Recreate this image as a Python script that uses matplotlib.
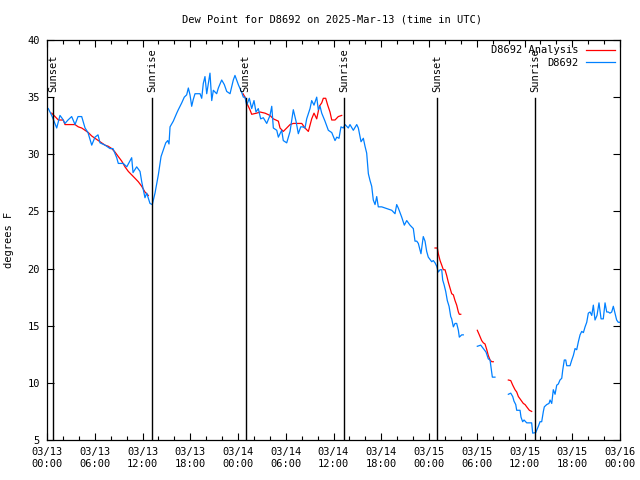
import numpy as np
import pandas as pd
import matplotlib
matplotlib.use("Agg")
import matplotlib.pyplot as plt
import matplotlib.dates as mdates
import matplotlib.transforms as mtransforms

plt.rcParams['font.family'] = ['DejaVu Sans Mono']

inicio = pd.Timestamp("2025-03-13 00:00")

# horas desde 03/13 00:00 UTC ; nan = falha nos dados
horas_obs = [0.16, 0.59, 1.22, 1.63, 1.95, 2.26, 2.64, 3.10, 3.52, 3.90, 4.36, 4.78, 5.15, 5.62,
             6.03, 6.41, 6.66, 7.29, 7.92, 8.29, 8.76, 8.96, 9.59, 10.02, 10.64, 10.81, 11.27,
             11.69, 11.90, 12.31, 12.53, 12.94, 13.23, 13.57, 13.99, 14.33, 14.62, 14.92, 15.17,
             15.33, 15.46, 15.87, 16.30, 16.50, 16.93, 17.25, 17.55, 17.76, 17.97, 18.18, 18.38,
             18.60, 19.23, 19.44, 19.64, 19.85, 20.07, 20.48, 20.70, 20.90, 21.32, 21.53, 21.95,
             22.28, 22.58, 23.00, 23.41, 23.62, 24.04, 24.47, 24.67, 24.88, 25.09, 25.42, 25.72,
             26.01, 26.26, 26.55, 26.85, 27.18, 27.61, 28.02, 28.24, 28.44, 28.87, 29.07, 29.49,
             29.69, 30.12, 30.54, 30.95, 31.29, 31.58, 31.88, 32.13, 32.42, 32.63, 33.05, 33.26,
             33.55, 33.89, 34.09, 34.31, 34.52, 34.93, 35.35, 35.78, 36.19, 36.41, 36.69, 36.94,
             37.23, 37.45, 37.86, 38.07, 38.49, 38.92, 39.12, 39.46, 39.75, 39.96, 40.17, 40.38,
             40.59, 40.80, 41.00, 41.22, 41.43, 41.63, 42.06, 42.47, 43.32, 43.73, 43.94, 44.14,
             44.57, 44.90, 45.20, 45.61, 46.03, 46.24, 46.46, 46.66, 46.99, 47.28, 47.50, 47.71,
             47.91, 48.34, 48.54, 48.76, 48.97, 49.17, 49.39, 49.60, 49.72, 49.89, 50.10, 50.30,
             50.52, 50.73, 50.85, 51.06, 51.27, 51.48, 51.69, 51.81, 52.11, 52.31,
             53.00,
             54.07, 54.50, 54.83, 55.16, 55.45, 55.67, 55.79, 55.96, 56.29,
             57.00,
             57.97, 58.27, 58.52, 58.68, 58.90, 59.02, 59.44, 59.56, 59.77, 59.94, 60.28, 60.90,
             61.03, 61.41, 61.74, 61.95, 62.16, 62.37, 62.49, 62.79, 63.08, 63.21, 63.42, 63.62,
             63.84, 64.05, 64.25, 64.46, 64.68, 64.80, 65.00, 65.18, 65.31, 65.72, 65.94, 66.14,
             66.35, 66.56, 66.77, 66.98, 67.19, 67.40, 67.61, 67.82, 68.02, 68.24, 68.45, 68.65,
             68.86, 69.11, 69.36, 69.62, 69.90, 70.12, 70.33, 70.53, 70.74, 70.96, 71.16, 71.37,
             71.58, 71.78, 71.99]
orvalho_obs = [34.0, 33.4, 32.3, 33.4, 33.1, 32.7, 33.0, 33.3, 32.6, 33.3, 33.3, 32.3, 31.9, 30.8,
               31.5, 31.7, 31.0, 30.8, 30.5, 30.5, 29.7, 29.2, 29.2, 28.9, 29.7, 28.4, 28.9,
               28.5, 27.6, 26.2, 26.6, 25.7, 25.6, 26.6, 28.2, 29.8, 30.4, 31.0, 31.2,
               30.9, 32.4, 32.9, 33.6, 33.9, 34.5, 35.0, 35.2, 35.8, 35.2, 34.2, 34.8,
               35.3, 35.3, 34.9, 36.2, 36.8, 35.3, 37.1, 34.7, 35.6, 35.3, 35.8, 36.5,
               36.1, 35.5, 35.3, 36.5, 36.9, 36.1, 35.4, 35.0, 35.0, 34.3, 34.9, 34.0,
               34.7, 33.7, 34.0, 33.1, 33.2, 32.7, 33.4, 34.2, 32.3, 32.1, 31.5, 32.1,
               31.2, 31.0, 32.0, 33.9, 32.9, 31.8, 32.4, 32.4, 32.3, 33.1, 34.0, 34.7,
               34.3, 35.0, 33.9, 34.2, 33.6, 32.9, 32.1, 31.9, 31.2, 31.5, 31.4, 32.4,
               32.3, 32.6, 32.3, 32.6, 32.1, 32.6, 32.3, 31.1, 31.4, 30.7, 30.1, 28.3,
               27.7, 27.2, 26.0, 25.6, 26.3, 25.4, 25.4, 25.3, 25.1, 24.8, 25.6, 25.3,
               24.5, 23.8, 24.2, 23.8, 23.5, 22.4, 22.4, 22.2, 21.3, 22.8, 22.4, 21.5,
               21.0, 20.6, 20.7, 20.5, 20.2, 19.7, 19.9, 19.9, 19.0, 18.6, 18.0, 17.2,
               16.7, 15.8, 15.6, 14.9, 15.2, 15.2, 14.6, 14.0, 14.2, 14.2,
               np.nan,
               13.2, 13.3, 13.0, 12.7, 12.1, 12.0, 11.4, 10.5, 10.5,
               np.nan,
               9.0, 9.1, 8.8, 8.4, 8.1, 7.6, 7.6, 7.0, 6.6, 6.75, 6.5, 6.5,
               5.6, 5.65, 6.2, 6.6, 6.6, 7.5, 7.9, 8.1, 8.2, 8.5, 8.2, 9.4,
               9.0, 9.8, 9.9, 10.25, 10.4, 11.1, 12.0, 12.0, 11.5, 11.5, 12.0, 12.4,
               13.0, 12.9, 13.6, 14.2, 14.5, 14.4, 14.9, 15.3, 16.1, 16.2, 15.9, 16.8,
               15.5, 15.9, 17.0, 15.6, 15.6, 17.0, 16.2, 16.2, 16.1, 16.2, 16.7, 16.1,
               15.5, 15.3, 15.3]

horas_analise = [0.59, 1.01, 1.42, 2.05, 2.26, 2.89, 3.52, 3.93, 4.36, 4.78, 5.19, 5.62, 6.03,
                 6.45, 6.87, 7.29, 7.70, 8.13, 8.54, 8.96, 9.39, 9.80, 10.22, 10.64, 11.06,
                 11.47, 11.90, 12.31, 12.73,
                 18.0,
                 24.63, 24.88, 25.09, 25.50, 25.72, 26.35, 26.77, 27.39, 28.02, 28.44, 29.07,
                 29.28, 29.69, 30.12, 30.54, 30.95, 31.58, 32.01, 32.42, 32.84, 33.26, 33.55,
                 33.89, 34.22, 34.52, 34.72, 35.02, 35.27, 35.56, 35.78, 36.19, 36.60, 37.03,
                 42.0,
                 48.76, 49.05, 49.17, 49.39, 49.60, 49.80, 50.01, 50.22, 50.43, 50.64, 50.85,
                 51.06, 51.27, 51.48, 51.69, 51.81, 51.99,
                 53.0,
                 54.07, 54.32, 54.62, 54.83, 55.04, 55.26, 55.45, 55.67, 55.88, 56.08,
                 57.0,
                 57.97, 58.27, 58.52, 58.81, 59.02, 59.23, 59.44, 59.85, 60.07, 60.28, 60.61,
                 60.90]
orvalho_analise = [33.6, 33.3, 33.0, 33.0, 32.6, 32.6, 32.6, 32.4, 32.3, 32.1, 31.9, 31.6, 31.4,
                   31.2, 31.0, 30.8, 30.7, 30.5, 30.2, 29.8, 29.4, 28.9, 28.5, 28.2, 27.9,
                   27.6, 27.2, 26.7, 26.4,
                   np.nan,
                   35.3, 35.0, 34.5, 33.9, 33.5, 33.6, 33.7, 33.6, 33.4, 33.1, 32.9,
                   32.3, 32.0, 32.3, 32.6, 32.7, 32.7, 32.7, 32.3, 32.0, 33.1, 33.6,
                   33.1, 34.2, 34.5, 34.9, 34.9, 34.3, 33.7, 33.0, 33.0, 33.3, 33.4,
                   np.nan,
                   21.8, 21.8, 21.3, 20.7, 20.3, 19.9, 19.9, 19.4, 18.8, 18.3, 17.8,
                   17.7, 17.2, 16.8, 16.2, 16.0, 16.0,
                   np.nan,
                   14.6, 14.2, 13.7, 13.5, 13.4, 12.9, 12.4, 12.0, 11.85, 11.85,
                   np.nan,
                   10.25, 10.2, 9.8, 9.4, 9.2, 8.8, 8.6, 8.2, 8.1, 7.9, 7.6,
                   7.5]

horas_sol = [0.79, 13.23, 24.97, 37.36, 49.05, 61.36]
eventos_sol = ["Sunset", "Sunrise", "Sunset", "Sunrise", "Sunset", "Sunrise"]

def para_datas(horas):
    return inicio + pd.to_timedelta(horas, unit="h")

fig = plt.figure(figsize=(6.4, 4.8), dpi=100)
ax = fig.add_axes([47 / 640, 40 / 480, 573 / 640, 400 / 480])

ax.plot(para_datas(horas_analise), orvalho_analise, color="#ff0000", lw=0.9, label="D8692 Analysis")
ax.plot(para_datas(horas_obs), orvalho_obs, color="#0080ff", lw=0.9, label="D8692")

trans = mtransforms.blended_transform_factory(ax.transData, ax.transAxes)
for h, nome in zip(horas_sol, eventos_sol):
    t = mdates.date2num(para_datas([h])[0])
    ax.plot([t, t], [0, 0.855], color="black", lw=1.0, transform=trans)
    ax.text(t, 0.871, nome, rotation=90, ha="center", va="bottom", fontsize=7.5, transform=trans)

ax.set_xlim(inicio, inicio + pd.Timedelta(hours=72))
ax.set_ylim(5, 40)
ax.set_yticks(range(5, 41, 5))
ax.xaxis.set_major_locator(mdates.HourLocator(byhour=range(0, 24, 6)))
ax.xaxis.set_minor_locator(mdates.HourLocator(interval=2))
ax.xaxis.set_major_formatter(mdates.DateFormatter("%m/%d\n%H:%M"))

ax.tick_params(which="both", direction="in", top=True, right=True, labelsize=7.5, color="black")
ax.tick_params(which="major", length=5, width=0.8, pad=5)
ax.tick_params(which="minor", length=3, width=0.8)
for s in ax.spines.values():
    s.set_linewidth(0.9)

ax.set_ylabel("degrees F", fontsize=7.5)
ax.yaxis.set_label_coords(-0.057, 0.5)
fig.text(332 / 640, 1 - 20 / 480, "Dew Point for D8692 on 2025-Mar-13 (time in UTC)",
         ha="center", va="center", fontsize=7.5)

ax.legend(loc="upper right", frameon=False, markerfirst=False, fontsize=7.5,
          handlelength=2.8, handletextpad=0.7, labelspacing=0.25,
          borderaxespad=0.3, borderpad=0.2)

fig.savefig("out.png", dpi=100)
